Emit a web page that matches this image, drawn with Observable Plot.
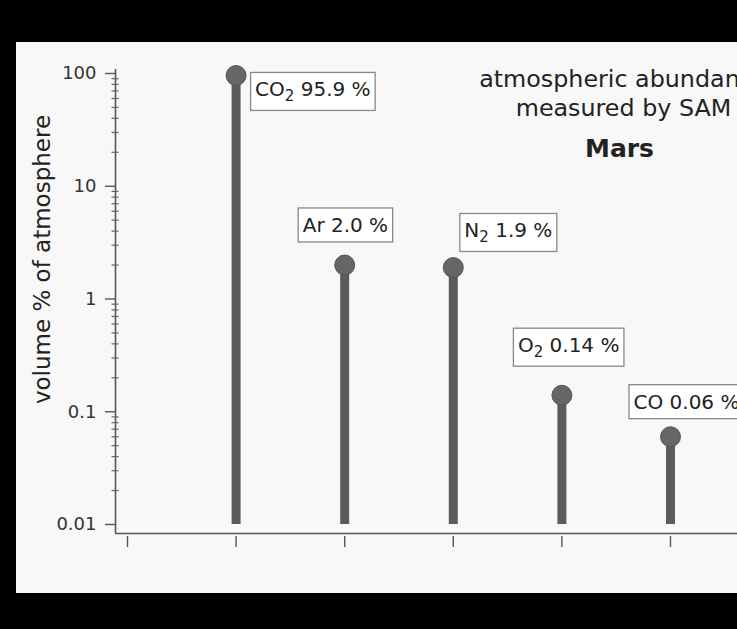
<!DOCTYPE html>
<html><head><meta charset="utf-8">
<script src="https://cdn.jsdelivr.net/npm/d3@7"></script>
<script src="https://cdn.jsdelivr.net/npm/@observablehq/plot@0.6"></script>
<style>
html,body{margin:0;padding:0;background:#000;overflow:hidden;width:737px;height:629px;}
#chart{position:absolute;left:16px;top:42px;}
</style></head><body><div id="chart"></div>
<script>
// ---- data ----
const gases = ["CO₂", "Ar", "N₂", "O₂", "CO"];
const positions = [1, 2, 3, 4, 5];
const abundances = [95.9, 2.0, 1.9, 0.14, 0.06];
const valueText = ["95.9", "2.0", "1.9", "0.14", "0.06"];
const yMajorTicks = [0.01, 0.1, 1, 10, 100];
const yMinorTicks = [];
for (const base of [0.01, 0.1, 1, 10]) for (let m = 2; m <= 9; m++) yMinorTicks.push(+(base * m).toPrecision(3));
const xTicks = [0, 1, 2, 3, 4, 5];
const titleLines = ["atmospheric abundances", "measured by SAM"];
const planet = "Mars";
const yLabel = "volume % of atmosphere";
const baseValue = 0.01;

// ---- layout (label offsets in px relative to each dot) ----
const labelOffsets = [[19, 14.5], [-42, -39.5], [11, -36.5], [-44, -49.5], [-37, -34.5]];
const xDomain = [-0.1105, 5.617];
const yDomain = [0.00832, 100];

const rows = gases.map((g, i) => ({gas: g, pos: positions[i], value: abundances[i], label: `${g} ${valueText[i]} %`}));

const plot = Plot.plot({
  width: 721, height: 551,
  marginLeft: 99, marginRight: 0, marginTop: 31, marginBottom: 60,
  style: {background: "#f8f8f8", fontFamily: "'DejaVu Sans', sans-serif", color: "#222", overflow: "visible"},
  x: {type: "linear", domain: xDomain},
  y: {type: "log", domain: yDomain},
  marks: [
    Plot.ruleX([xDomain[0]], {stroke: "#555", strokeWidth: 1.6, insetTop: -4}),
    Plot.ruleY([yDomain[0]], {stroke: "#555", strokeWidth: 1.6}),
    Plot.axisY(yMajorTicks, {tickSize: 10, tickPadding: 9, fontSize: 18, color: "#333", stroke: "#555", strokeWidth: 1.4, tickFormat: d => String(d), label: null}),
    Plot.axisY(yMinorTicks, {tickSize: 7, dx: 3.5, stroke: "#666", strokeWidth: 1.2, tickFormat: () => "", label: null}),
    Plot.axisX(xTicks, {tickSize: 11, dy: 3, stroke: "#555", strokeWidth: 1.4, tickFormat: () => "", label: null}),
    Plot.ruleX(rows, {x: "pos", y1: baseValue, y2: "value", stroke: "#5b5b5b", strokeWidth: 9}),
    Plot.dot(rows, {x: "pos", y: "value", r: 10, fill: "#666", stroke: "#555", strokeWidth: 1}),
    ...rows.map((d, i) => Plot.text([d], {x: "pos", y: "value", text: "label", dx: labelOffsets[i][0], dy: labelOffsets[i][1], textAnchor: "start", fontSize: 20, fill: "#222", className: "lbl"})),
    Plot.text([titleLines[0]], {frameAnchor: "top", textAnchor: "middle", dx: 203, dy: -3, fontSize: 23.8, fill: "#222"}),
    Plot.text([titleLines[1]], {frameAnchor: "top", textAnchor: "middle", dx: 197, dy: 26, fontSize: 23.8, fill: "#222"}),
    Plot.text([planet], {frameAnchor: "top", textAnchor: "middle", dx: 193, dy: 66, fontSize: 25, fontWeight: "bold", fill: "#222"}),
    Plot.text([yLabel], {frameAnchor: "left", textAnchor: "middle", lineAnchor: "middle", rotate: -90, dx: -73, dy: -44, fontSize: 23, fill: "#222"})
  ]
});
document.getElementById("chart").appendChild(plot);

// subscripts and label boxes behind label texts
const NS = "http://www.w3.org/2000/svg";
const padX = 4.5, padY = 6;
plot.querySelectorAll(".lbl text").forEach(t => {
  const s = t.textContent;
  const k = s.indexOf("₂");
  if (k >= 0) {
    t.textContent = "";
    const a = document.createElementNS(NS, "tspan"); a.textContent = s.slice(0, k);
    const sub = document.createElementNS(NS, "tspan"); sub.textContent = "2";
    sub.setAttribute("font-size", "15"); sub.setAttribute("dy", "5");
    const c = document.createElementNS(NS, "tspan"); c.textContent = s.slice(k + 1);
    c.setAttribute("dy", "-5");
    t.append(a, sub, c);
  }
  const b = t.getBBox();
  const r = document.createElementNS(NS, "rect");
  r.setAttribute("x", b.x - padX);
  r.setAttribute("y", b.y - padY + 1);
  r.setAttribute("width", b.width + 2 * padX);
  r.setAttribute("height", b.height + 2 * padY - 2);
  r.setAttribute("fill", "#fff");
  r.setAttribute("stroke", "#888");
  r.setAttribute("stroke-width", "1.3");
  const tr = t.getAttribute("transform");
  if (tr) r.setAttribute("transform", tr);
  t.parentNode.insertBefore(r, t);
});
</script></body></html>
